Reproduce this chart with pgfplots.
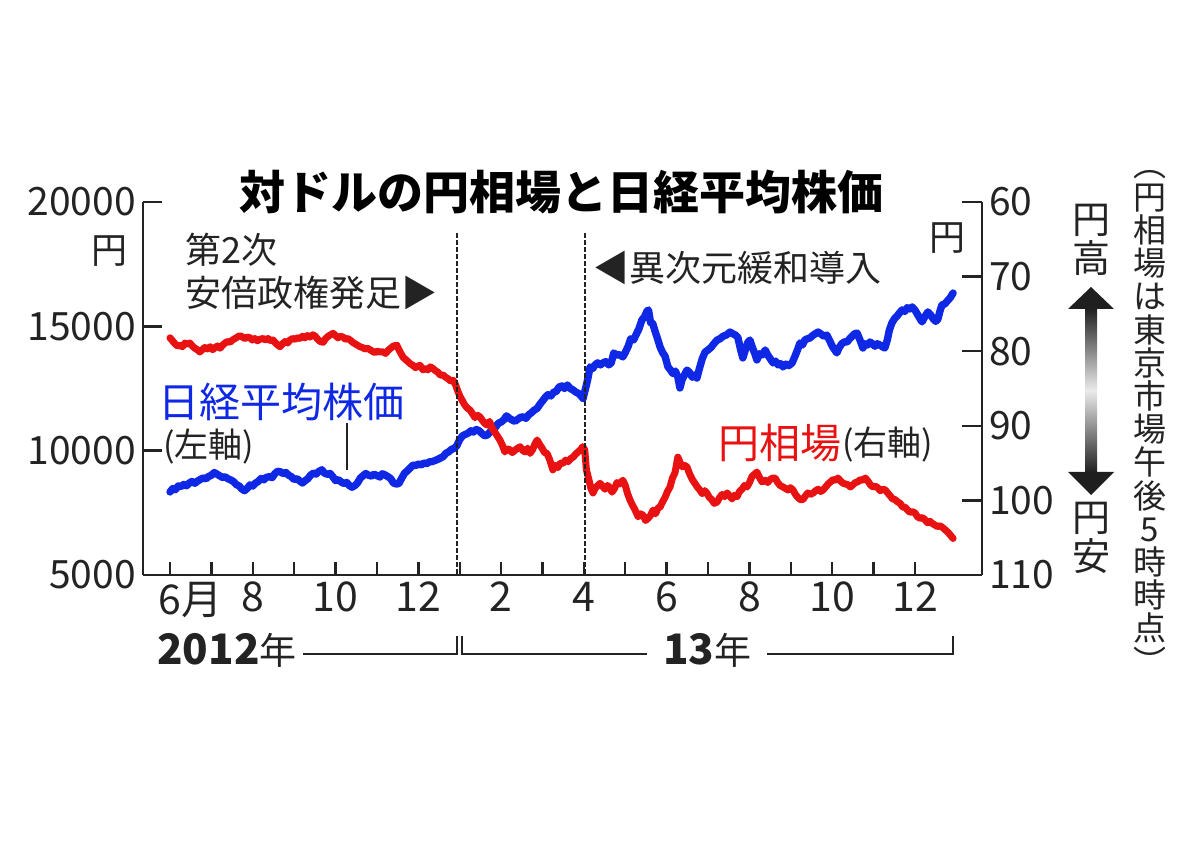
\documentclass[border=0pt]{standalone}
\usepackage{fontspec}
\setmainfont{Noto Sans CJK JP}
\usepackage{pgfplots}
\usepackage{pgfplotstable}
\pgfplotsset{compat=1.18}
\definecolor{nblue}{RGB}{15,40,230}
\definecolor{yred}{RGB}{232,18,18}
\definecolor{axgray}{RGB}{35,35,35}

\pgfplotstableread{
m v
0.00 8340
0.07 8480
0.13 8430
0.20 8580
0.27 8560
0.33 8640
0.40 8590
0.47 8700
0.53 8760
0.60 8690
0.67 8780
0.73 8840
0.80 8900
0.87 8870
0.93 8960
1.00 9010
1.07 9120
1.13 9060
1.20 8990
1.27 8920
1.33 8950
1.40 8870
1.47 8820
1.53 8760
1.60 8640
1.67 8580
1.73 8470
1.80 8390
1.87 8490
1.93 8620
2.00 8580
2.07 8700
2.13 8760
2.20 8880
2.27 8830
2.33 8930
2.40 8950
2.47 8920
2.53 9070
2.60 9170
2.67 9150
2.73 9080
2.80 9120
2.87 9010
2.93 8960
3.00 8840
3.07 8870
3.13 8790
3.20 8700
3.27 8800
3.33 8870
3.40 9020
3.47 9100
3.53 9060
3.60 9170
3.67 9230
3.73 9100
3.80 9050
3.87 9080
3.93 8960
4.00 8800
4.07 8830
4.13 8750
4.20 8680
4.27 8720
4.33 8600
4.40 8530
4.47 8600
4.53 8700
4.60 8900
4.67 9000
4.73 9080
4.80 9010
4.87 8980
4.93 9050
5.00 9000
5.07 8940
5.13 9070
5.20 9020
5.27 8950
5.33 8880
5.40 8700
5.47 8660
5.53 8680
5.60 8900
5.67 9100
5.73 9180
5.80 9300
5.87 9420
5.93 9400
6.00 9460
6.07 9430
6.13 9500
6.20 9480
6.27 9550
6.33 9560
6.40 9600
6.47 9650
6.53 9700
6.60 9760
6.67 9900
6.73 9950
6.80 10050
6.87 10100
6.93 10200
7.00 10450
7.07 10600
7.13 10650
7.20 10700
7.27 10800
7.33 10750
7.40 10850
7.47 10800
7.53 10700
7.60 10600
7.67 10630
7.73 10750
7.80 10850
7.87 10950
7.93 11100
8.00 11150
8.07 11250
8.13 11400
8.20 11300
8.27 11230
8.33 11180
8.40 11260
8.47 11340
8.53 11360
8.60 11300
8.67 11450
8.73 11520
8.80 11630
8.87 11700
8.93 11850
9.00 12000
9.07 12150
9.13 12250
9.20 12200
9.27 12350
9.33 12380
9.40 12560
9.47 12600
9.53 12500
9.60 12640
9.67 12500
9.73 12450
9.80 12360
9.87 12300
9.93 12200
9.98 12100
10.04 12500
10.09 12850
10.15 13370
10.21 13300
10.27 13450
10.33 13530
10.40 13450
10.46 13530
10.53 13580
10.60 13450
10.66 13530
10.72 13930
10.79 13850
10.87 13850
10.94 13770
11.00 13950
11.07 14200
11.13 14500
11.20 14450
11.27 14700
11.33 14900
11.40 15250
11.47 15400
11.52 15600
11.56 15660
11.61 15150
11.66 15130
11.72 14800
11.78 14500
11.84 14170
11.90 13950
11.96 13800
12.03 13370
12.09 13250
12.15 13100
12.21 13200
12.27 12960
12.32 12520
12.37 12850
12.43 13050
12.49 13240
12.55 13150
12.62 12950
12.68 13050
12.73 12920
12.79 13300
12.86 13700
12.93 13970
13.00 14050
13.07 14150
13.14 14300
13.22 14450
13.29 14500
13.36 14600
13.44 14650
13.53 14770
13.60 14700
13.66 14650
13.72 14550
13.78 14100
13.84 13730
13.90 14050
13.96 14350
14.01 14450
14.07 14150
14.13 13900
14.18 13650
14.25 13900
14.31 13850
14.38 14050
14.44 13850
14.50 13700
14.57 13530
14.63 13600
14.69 13450
14.75 13500
14.81 13370
14.88 13480
14.95 13420
15.03 13530
15.10 13800
15.16 14050
15.22 14330
15.28 14250
15.34 14450
15.40 14500
15.46 14530
15.52 14620
15.59 14700
15.66 14770
15.72 14700
15.80 14600
15.87 14650
15.93 14450
16.00 14200
16.06 14050
16.11 13930
16.17 14150
16.23 14300
16.30 14380
16.36 14370
16.42 14500
16.48 14600
16.54 14700
16.60 14730
16.67 14450
16.74 14130
16.80 14300
16.85 14250
16.91 14370
16.97 14300
17.03 14200
17.09 14300
17.15 14250
17.21 14180
17.27 14130
17.33 14450
17.38 14850
17.44 15130
17.50 15300
17.56 15400
17.63 15550
17.69 15660
17.75 15600
17.81 15750
17.87 15700
17.93 15780
18.00 15650
18.07 15450
18.13 15280
18.17 15180
18.24 15400
18.31 15580
18.38 15450
18.44 15300
18.50 15200
18.55 15280
18.60 15600
18.65 15860
18.72 15900
18.78 16020
18.85 16150
18.92 16340
}\nikkei

\pgfplotstableread{
m v
0.00 78.2
0.06 78.6
0.12 79.0
0.18 79.3
0.24 79.2
0.30 79.4
0.36 78.9
0.42 79.1
0.48 78.9
0.54 79.3
0.60 79.6
0.66 79.8
0.72 80.1
0.78 79.8
0.84 79.5
0.90 79.7
0.97 79.4
1.03 79.8
1.09 79.5
1.15 79.3
1.21 79.6
1.27 79.2
1.33 78.9
1.39 78.7
1.45 78.8
1.51 78.5
1.57 78.3
1.63 78.1
1.69 77.9
1.75 78.1
1.81 78.3
1.87 78.1
1.93 78.2
1.99 78.5
2.05 78.3
2.11 78.6
2.17 78.4
2.25 78.3
2.31 78.5
2.37 78.3
2.43 78.6
2.49 78.5
2.55 78.9
2.61 79.2
2.66 79.4
2.72 79.0
2.78 78.7
2.84 78.9
2.90 78.5
2.96 78.3
3.02 78.4
3.08 78.2
3.14 78.3
3.20 78.0
3.26 78.2
3.32 77.9
3.38 78.1
3.45 77.8
3.51 78.0
3.57 78.4
3.63 78.7
3.70 78.8
3.76 78.3
3.82 78.0
3.88 77.8
3.94 77.6
4.00 77.9
4.06 78.2
4.12 78.0
4.18 78.1
4.24 78.4
4.30 78.3
4.35 78.5
4.41 78.8
4.47 79.0
4.53 79.2
4.59 79.4
4.65 79.5
4.71 79.7
4.77 79.6
4.83 79.8
4.89 80.0
4.95 80.2
5.01 80.0
5.07 80.1
5.15 80.1
5.21 80.3
5.27 79.9
5.33 79.6
5.40 79.3
5.48 79.2
5.55 80.0
5.63 80.8
5.69 81.1
5.75 81.4
5.81 81.7
5.87 81.9
5.93 82.2
5.99 82.0
6.04 81.9
6.11 82.5
6.17 82.3
6.23 82.5
6.29 82.1
6.35 82.3
6.41 82.6
6.47 82.8
6.53 83.2
6.60 83.2
6.66 83.5
6.72 83.7
6.78 84.0
6.84 83.9
6.90 84.5
6.95 85.3
7.01 86.1
7.06 86.6
7.12 87.2
7.18 87.6
7.25 87.9
7.31 88.4
7.37 88.9
7.43 88.6
7.49 88.8
7.55 89.3
7.61 89.7
7.66 89.9
7.72 89.4
7.78 90.3
7.84 90.8
7.90 91.3
7.97 91.9
8.03 92.6
8.09 93.5
8.15 93.1
8.21 93.2
8.27 93.6
8.33 93.3
8.40 93.0
8.46 92.8
8.52 93.3
8.58 93.5
8.64 93.0
8.70 93.7
8.76 93.2
8.82 92.4
8.87 91.9
8.93 92.5
8.99 93.0
9.05 93.6
9.11 93.7
9.17 94.5
9.25 95.9
9.31 95.3
9.37 95.6
9.43 95.0
9.50 95.0
9.56 94.6
9.62 94.8
9.68 94.4
9.74 94.2
9.80 93.8
9.86 93.5
9.92 93.2
9.97 92.8
10.02 93.2
10.06 95.9
10.12 97.2
10.17 98.4
10.22 99.0
10.28 98.3
10.34 98.0
10.39 97.7
10.45 98.1
10.51 98.5
10.57 98.0
10.63 98.3
10.68 98.9
10.74 98.4
10.80 97.6
10.86 97.8
10.94 97.3
11.00 98.0
11.05 99.0
11.11 99.9
11.17 100.6
11.23 101.2
11.31 102.2
11.37 101.8
11.43 102.0
11.49 102.7
11.55 102.4
11.61 102.0
11.67 101.3
11.73 101.8
11.79 101.0
11.84 100.9
11.90 100.2
11.96 99.6
12.02 98.8
12.08 98.2
12.14 97.0
12.20 96.3
12.27 94.2
12.33 95.0
12.38 95.5
12.43 95.3
12.49 95.5
12.55 96.4
12.62 97.2
12.68 97.7
12.74 98.2
12.80 98.6
12.86 99.1
12.92 98.7
12.97 99.0
13.03 99.6
13.09 99.9
13.15 100.4
13.22 100.2
13.28 99.6
13.34 99.2
13.40 99.5
13.46 99.0
13.52 99.4
13.58 99.8
13.64 99.3
13.70 99.5
13.76 98.8
13.82 98.5
13.88 98.0
13.94 98.2
14.00 97.6
14.06 96.8
14.12 96.5
14.18 96.2
14.24 96.9
14.30 97.5
14.38 97.3
14.44 97.6
14.50 97.2
14.56 97.0
14.62 97.0
14.68 97.6
14.74 98.0
14.81 98.2
14.87 98.4
14.93 98.6
14.99 98.3
15.05 98.6
15.11 99.2
15.17 99.6
15.23 99.9
15.29 99.9
15.35 99.4
15.41 99.0
15.47 99.2
15.54 99.0
15.60 98.7
15.66 98.5
15.72 98.8
15.78 98.6
15.84 98.2
15.90 97.8
15.96 97.5
16.02 97.2
16.08 97.3
16.14 97.0
16.20 97.4
16.26 97.7
16.32 97.8
16.38 97.9
16.44 98.2
16.50 97.9
16.56 97.6
16.62 97.5
16.68 97.2
16.74 97.3
16.80 97.0
16.86 97.4
16.92 97.9
16.98 98.2
17.04 98.1
17.10 98.3
17.16 98.7
17.22 98.5
17.28 98.6
17.34 99.0
17.40 99.4
17.46 99.8
17.52 99.9
17.58 100.2
17.64 100.4
17.70 100.9
17.76 100.9
17.82 101.3
17.88 101.6
17.94 101.5
18.00 101.7
18.06 102.2
18.12 102.4
18.18 102.3
18.24 102.6
18.30 103.0
18.36 102.8
18.42 103.1
18.48 103.3
18.54 103.5
18.60 103.4
18.68 103.7
18.74 104.0
18.80 104.3
18.86 104.7
18.92 105.1
}\yen

\pgfplotsset{
  twin/.style={
    at={(71.5pt,133pt)}, anchor=south west, scale only axis,
    width=419.5pt, height=186.5pt,
    xmin=-0.652, xmax=19.618,
    axis line style={-, line width=1.2pt, axgray},
    tick align=inside, major tick length=9.5pt,
    tick style={line width=1.2pt, axgray},
    ticklabel style={font=\fontsize{19.5}{20}\selectfont, text=axgray},
    scaled y ticks=false, scaled x ticks=false,
    clip=false,
  }
}

\begin{document}
\begin{tikzpicture}
\path[use as bounding box] (0,0) rectangle (600pt,420.5pt);

% left axis: Nikkei
\begin{axis}[twin,
  ymin=5000, ymax=20000,
  axis x line*=bottom, axis y line*=left,
  xtick={0,...,18},
  xticklabels={6\rlap{月},,8,,10,,12,,2,,4,,6,,8,,10,,12},
  xticklabel style={font=\fontsize{20.5}{21}\selectfont},
  xtick style={/pgfplots/major tick length=6.5pt},
  ytick={5000,10000,15000,20000},
  yticklabels={5000,10000,15000,20000},
]
\addplot[nblue, line width=3.7pt, line join=round, line cap=round] table[x=m,y=v]{\nikkei};
\end{axis}

% right axis: yen
\begin{axis}[twin,
  ymin=60, ymax=110, y dir=reverse,
  axis x line=none, axis y line*=right,
  ytick={60,70,80,90,100,110},
  yticklabels={60,70,80,90,100,110},
  major tick length=10pt,
]
\addplot[yred, line width=3.5pt, line join=round, line cap=round] table[x=m,y=v]{\yen};
\draw[axgray, line width=1pt, dash pattern=on 2.2pt off 1.3pt] (axis cs:6.93,64.2) -- (axis cs:6.93,110);
\draw[axgray, line width=1pt, dash pattern=on 2.2pt off 1.3pt] (axis cs:10.03,64.2) -- (axis cs:10.03,110);
\end{axis}

\begin{scope}[x=0.5pt, y=-0.5pt, shift={(0pt,420.5pt)}]
% title
\node[font=\fontsize{23}{26}\selectfont\bfseries, text=black] at (561,192) {対ドルの円相場と日経平均株価};

% units
\node[font=\fontsize{18}{18}\selectfont, text=axgray] at (109,251) {円};
\node[font=\fontsize{18}{18}\selectfont, text=axgray] at (947,238) {円};

% annotations
\node[anchor=west, inner sep=0, font=\fontsize{18}{18}\selectfont, text=axgray] at (185,250) {第2次};
\node[anchor=west, inner sep=0, font=\fontsize{18}{18}\selectfont, text=axgray] at (185,293) {安倍政権発足▶};
\node[anchor=west, inner sep=0, font=\fontsize{18}{18}\selectfont, text=axgray] at (593,268) {◀異次元緩和導入};

\node[anchor=west, inner sep=0, font=\fontsize{20.5}{21}\selectfont, text=nblue] at (158,402) {日経平均株価};
\node[anchor=west, inner sep=0, font=\fontsize{17}{17}\selectfont, text=axgray] at (163,447) {(左軸)};
\draw[axgray, line width=0.8pt] (347,423) -- (347,470);

\node[anchor=west, inner sep=0, font=\fontsize{20.5}{21}\selectfont, text=yred] at (718,443) {円相場};
\node[anchor=west, inner sep=0, font=\fontsize{17}{17}\selectfont, text=axgray] at (842,445) {(右軸)};

% year labels and brackets
\node[anchor=west, inner sep=0, text=axgray] at (157,650) {\fontsize{21}{21}\selectfont\bfseries 2012\fontsize{18.5}{18.5}\selectfont\mdseries 年};
\node[anchor=west, inner sep=0, text=axgray] at (663,650) {\fontsize{21}{21}\selectfont\bfseries 13\fontsize{18.5}{18.5}\selectfont\mdseries 年};
\draw[axgray, line width=0.8pt] (303,654) -- (457,654) -- (457,636);
\draw[axgray, line width=0.8pt] (462,636) -- (462,654) -- (647,654);
\draw[axgray, line width=0.8pt] (767,654) -- (953,654) -- (953,636);

% yen strong / weak arrow
\shade[top color=black!90, bottom color=black!90, middle color=black!8] (1085,306) rectangle (1097,475);
\fill[black!88] (1068,309) -- (1091,287) -- (1114,309) -- cycle;
\fill[black!88] (1068,472) -- (1091,495) -- (1114,472) -- cycle;
\node[align=center, inner sep=0, font=\fontsize{19}{19.5}\selectfont, text=axgray] at (1091,240) {円\\高};
\node[align=center, inner sep=0, font=\fontsize{19}{19.5}\selectfont, text=axgray] at (1091,538) {円\\安};

% vertical note
\node[align=center, inner sep=0, font=\fontsize{16.5}{16.6}\selectfont, text=axgray] at (1150,422)
  {︵\\円\\相\\場\\は\\東\\京\\市\\場\\午\\後\\5\\時\\時\\点\\︶};
\end{scope}
\end{tikzpicture}
\end{document}
